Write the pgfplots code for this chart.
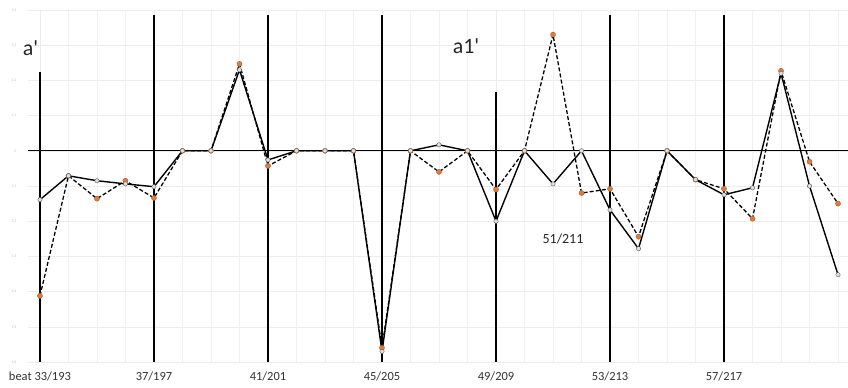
\documentclass[border=0pt]{standalone}
\usepackage{pgfplots}
\pgfplotsset{compat=1.18}
\usepackage{fontspec}
\setmainfont{Carlito}
\definecolor{orng}{HTML}{E07B3C}
\definecolor{lbl}{HTML}{333333}
\begin{document}
\begin{tikzpicture}[x=1bp,y=1bp]
\begin{axis}[
  name=ax,
  scale only axis,
  width=820bp, height=352bp,
  xmin=-0.42, xmax=28.35,
  ymin=-6, ymax=4,
  axis line style={draw=none},
  major tick length=0pt,
  clip=false,
  xtick={0,4,8,12,16,20,24},
  xticklabels={beat 33/193,37/197,41/201,45/205,49/209,53/213,57/217},
  xticklabel style={font=\fontsize{12.5}{13}\selectfont, text=lbl, yshift=-6bp},
  ytick={-6,-5,-4,-3,-2,-1,0,1,2,3,4},
  yticklabels={1.6,1.5,1.4,1.3,1.2,1.1,0,1.1,1.2,1.3,1.4},
  yticklabel style={font=\fontsize{4}{4}\selectfont, text=gray!50, xshift=-8bp},
  extra x ticks={1,2,3,5,6,7,9,10,11,13,14,15,17,18,19,21,22,23,25,26,27,28},
  extra x tick labels={},
  extra x tick style={grid=major, major grid style={gray!12, line width=0.5pt}},
  xmajorgrids=true,
  ymajorgrids=true,
  major grid style={gray!15, line width=0.6pt},
]
% zero line
\addplot[black, line width=1.2pt] coordinates {(-0.42,0) (28.35,0)};
% vertical section lines
\addplot[black, line width=1.1pt] coordinates {(0,2.24) (0,-6)};
\addplot[black, line width=1.1pt] coordinates {(4,3.86) (4,-6)};
\addplot[black, line width=1.1pt] coordinates {(8,3.86) (8,-6)};
\addplot[black, line width=1.1pt] coordinates {(12,3.86) (12,-6)};
\addplot[black, line width=1.1pt] coordinates {(16,1.68) (16,-6)};
\addplot[black, line width=1.1pt] coordinates {(20,3.86) (20,-6)};
\addplot[black, line width=1.1pt] coordinates {(24,3.86) (24,-6)};
% dashed series
\addplot[black, line width=1.3pt, dash pattern=on 4pt off 2.2pt,
  mark=*, mark size=2.6pt, mark options={solid, fill=orng, draw=orng!70!black, line width=0.3pt}]
  coordinates {
  (0,-4.12) (1,-0.71) (2,-1.36) (3,-0.85) (4,-1.34) (5,0) (6,0) (7,2.47)
  (8,-0.43) (9,0) (10,0) (11,0) (12,-5.6) (13,0) (14,-0.6) (15,0)
  (16,-1.1) (17,0) (18,3.3) (19,-1.2) (20,-1.08) (21,-2.44) (22,0)
  (23,-0.82) (24,-1.08) (25,-1.93) (26,2.27) (27,-0.31) (28,-1.5)};
% solid series
\addplot[black, line width=1.4pt,
  mark=*, mark size=2.2pt, mark options={fill=gray!25, draw=gray!70!black, line width=0.4pt}]
  coordinates {
  (0,-1.39) (1,-0.71) (2,-0.85) (3,-0.94) (4,-1.02) (5,0) (6,0) (7,2.3)
  (8,-0.26) (9,0) (10,0) (11,0) (12,-5.7) (13,0) (14,0.17) (15,0)
  (16,-2.0) (17,0) (18,-0.94) (19,0) (20,-1.68) (21,-2.78) (22,0)
  (23,-0.82) (24,-1.25) (25,-1.05) (26,2.2) (27,-1.0) (28,-3.52)};
\node[font=\fontsize{22}{23}\selectfont, text=black!85] at (axis cs:-0.33,2.92) {a\textquotesingle};
\node[font=\fontsize{22}{23}\selectfont, text=black!85] at (axis cs:14.95,2.97) {a1\textquotesingle};
\node[font=\fontsize{14}{15}\selectfont, text=black!85] at (axis cs:18.35,-2.5) {51/211};
\end{axis}
\pgfresetboundingbox
\path (ax.south west) ++(-28bp,-26bp) coordinate (bl);
\path (ax.north east) ++(0bp,10bp) coordinate (tr);
\path[use as bounding box] (bl) rectangle (tr);
\end{tikzpicture}
\end{document}
